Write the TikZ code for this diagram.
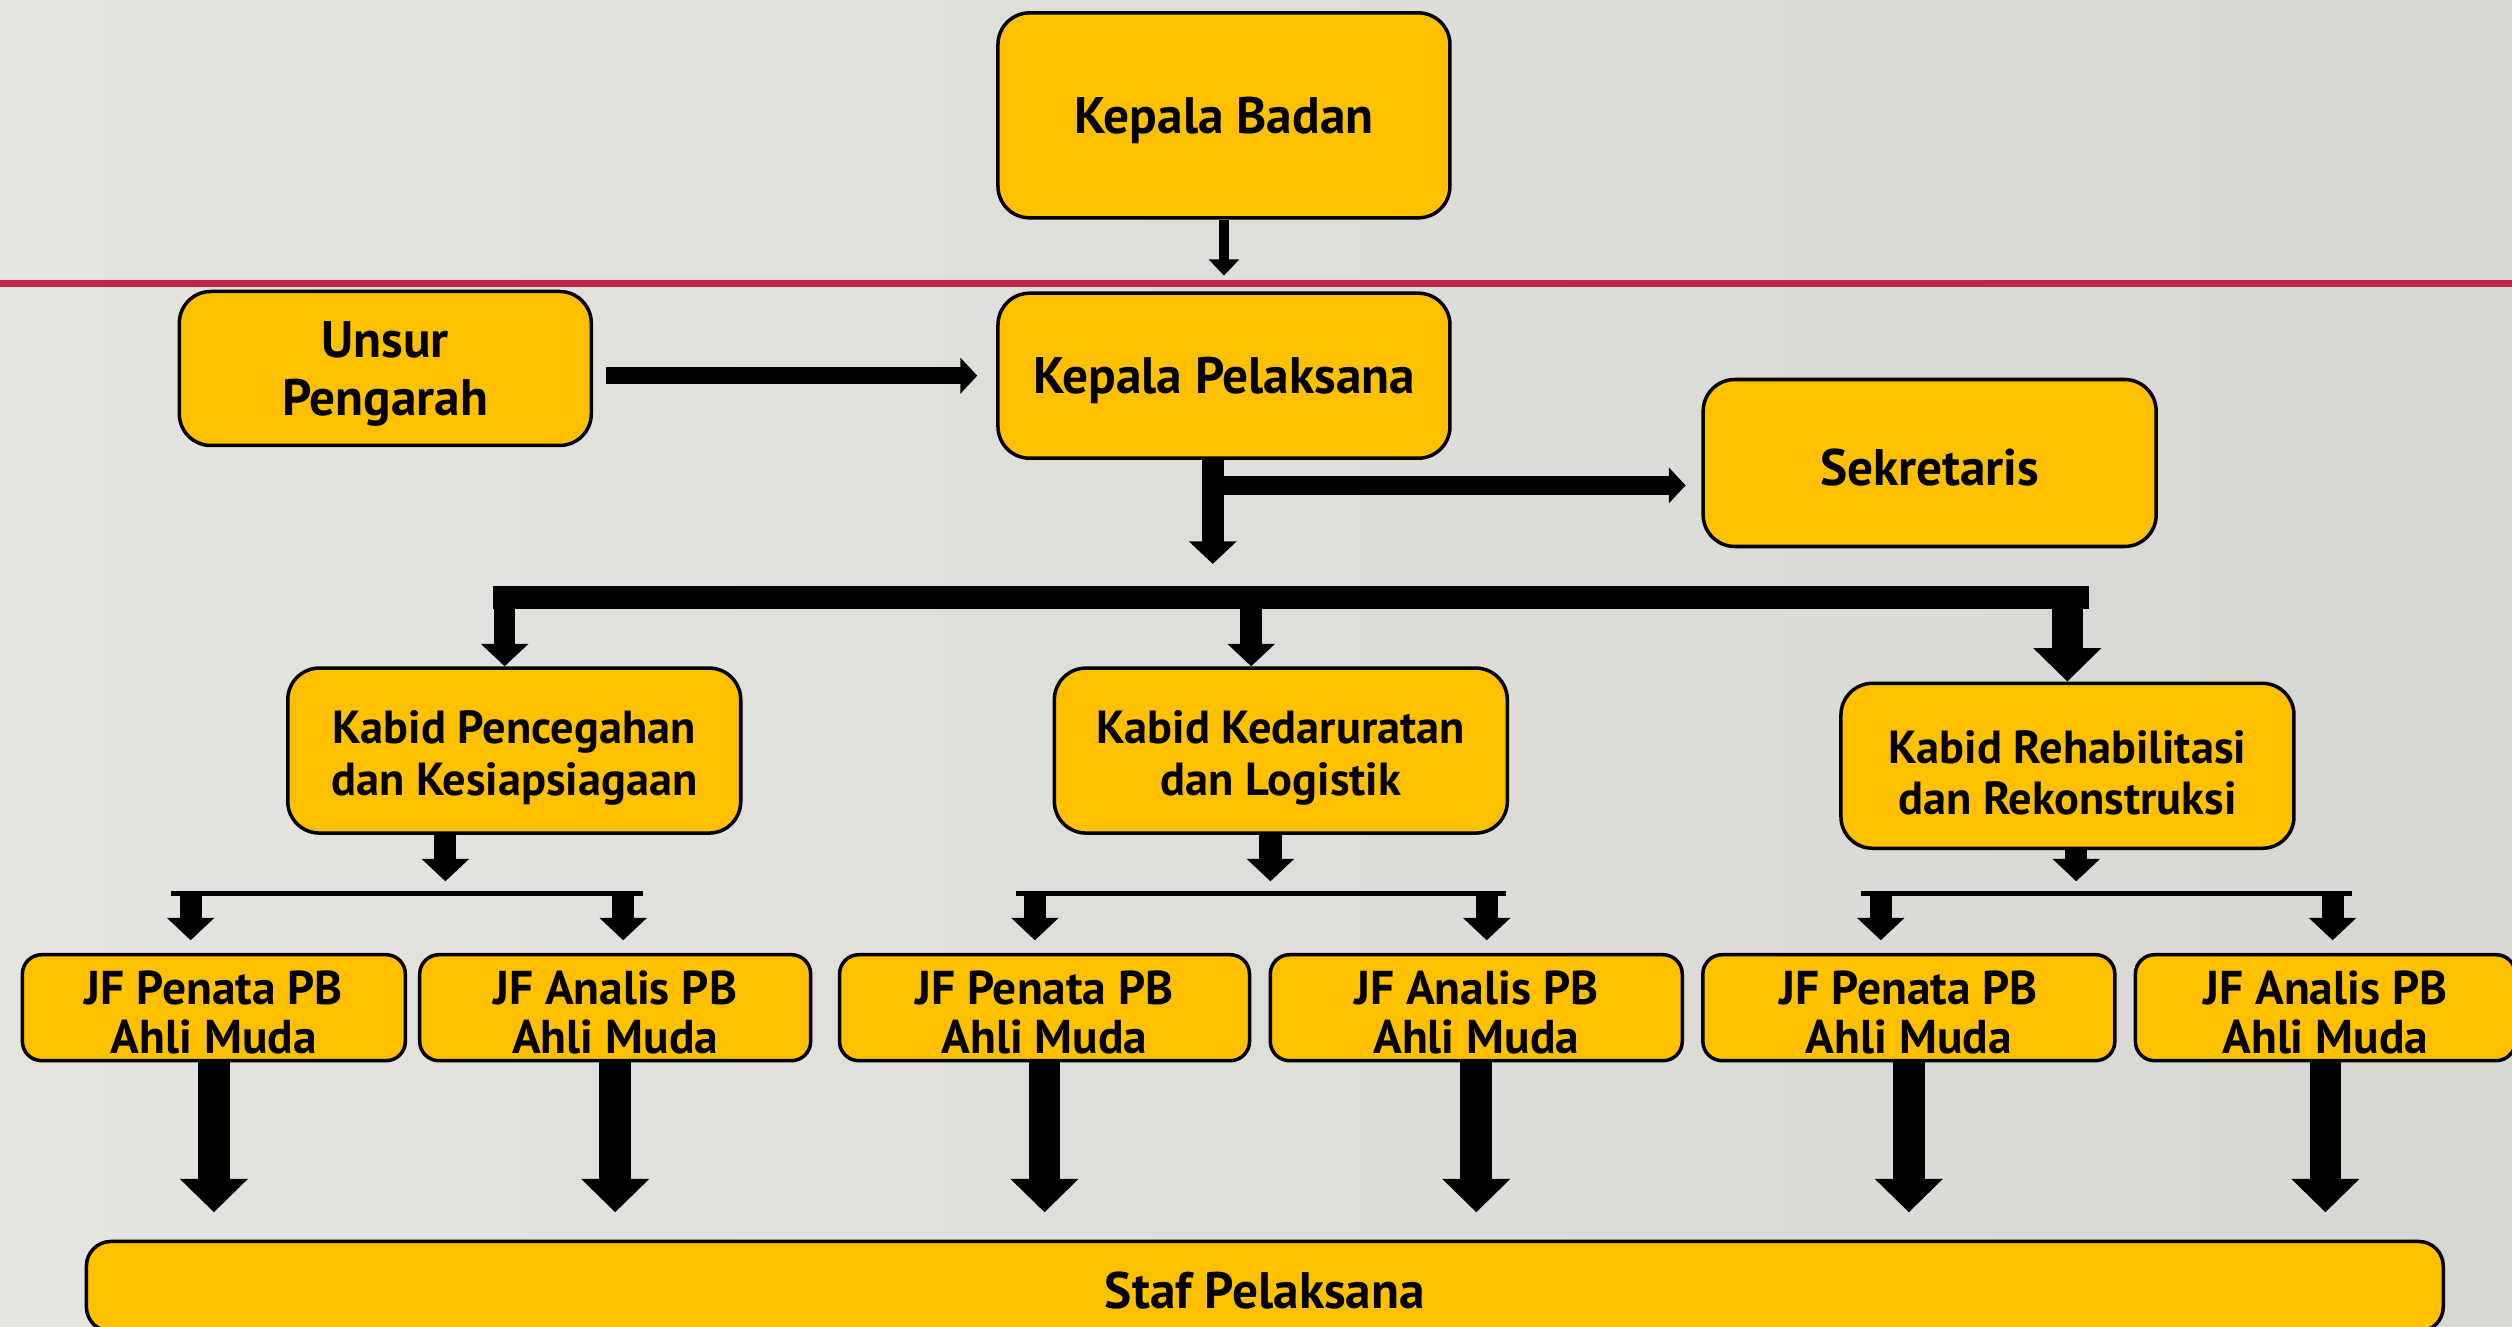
\documentclass[tikz,border=0pt]{standalone}
\usepackage{fontspec}
\setmainfont{PT Sans}
\usetikzlibrary{arrows.meta}

\definecolor{boxgold}{HTML}{FFC000}
\definecolor{lineRed}{HTML}{BE2448}
\definecolor{bgLeft}{HTML}{E5E3DF}
\definecolor{bgMid}{HTML}{ECEAE7}
\definecolor{bgRight}{HTML}{D9D7D3}

\newcommand{\lift}{\rule{0pt}{13.5pt}}
\newcommand{\liftjf}{\rule{0pt}{12.3pt}}

\begin{document}
\begin{tikzpicture}[x=0.01602cm, y=-0.01602cm]
    % Styles
    \tikzstyle{box} = [rectangle, rounded corners=9pt, text centered, align=center, draw=black, line width=1pt, fill=boxgold, font=\bfseries\fontsize{14.6}{16.5}\selectfont, execute at begin node={\rule{0pt}{13pt}}]
    \tikzstyle{kabid} = [box, minimum width=4.53cm, minimum height=1.65cm, font=\bfseries\fontsize{13.2}{14.6}\selectfont]
    \tikzstyle{jf} = [box, rounded corners=5.5pt, inner ysep=0pt, minimum height=1.06cm, font=\bfseries\fontsize{13.5}{14.2}\selectfont]
    \tikzstyle{thinarrow} = [line width=2.7pt, -{Triangle[length=4.6pt, width=8.4pt]}]
    \tikzstyle{medarrow} = [line width=5pt, -{Triangle[length=4.8pt, width=10pt]}]
    \tikzstyle{midarrow} = [line width=6.3pt, -{Triangle[length=6.4pt, width=13.2pt]}]
    \tikzstyle{bigarrow} = [line width=9pt, -{Triangle[length=9.5pt, width=18.8pt]}]
    \tikzstyle{bus} = [line width=6.4pt]
    \tikzstyle{subbus} = [line width=1.4pt]

    % Latar
    \useasboundingbox (0,0) rectangle (1568,828);
    \clip (0,0) rectangle (1568,828);
    \shade [left color=bgLeft, middle color=bgMid, right color=bgRight] (0,0) rectangle (1568,828);
    \draw [lineRed, line width=1.8pt] (0,177) -- (1568,177);

    % Pimpinan
    \node (badan) [box, minimum width=4.52cm, minimum height=2.05cm] at (764,72) {Kepala Badan};
    \node (pelaksana) [box, minimum width=4.52cm, minimum height=1.65cm] at (764,234.5) {Kepala Pelaksana};
    \node (unsur) [box, minimum width=4.12cm, minimum height=1.54cm] at (240.5,230) {\lift Unsur\\Pengarah};
    \node (sekretaris) [box, minimum width=4.53cm, minimum height=1.67cm] at (1204.5,289) {Sekretaris};

    % Kabid
    \node (kabid1) [kabid] at (321,468.5) {\lift Kabid Pencegahan\\dan Kesiapsiagaan};
    \node (kabid2) [kabid] at (799.5,468.5) {\lift Kabid Kedaruratan\\dan Logistik};
    \node (kabid3) [kabid] at (1290.5,478) {\lift Kabid Rehabilitasi\\dan Rekonstruksi};

    % Jabatan fungsional
    \node (jf11) [jf, minimum width=3.83cm] at (133.5,629) {\liftjf JF Penata PB\\Ahli Muda};
    \node (jf12) [jf, minimum width=3.91cm] at (384,629) {\liftjf JF Analis PB\\Ahli Muda};
    \node (jf21) [jf, minimum width=4.10cm] at (652,629) {\liftjf JF Penata PB\\Ahli Muda};
    \node (jf22) [jf, minimum width=4.12cm] at (921.5,629) {\liftjf JF Analis PB\\Ahli Muda};
    \node (jf31) [jf, minimum width=4.12cm] at (1191.5,629) {\liftjf JF Penata PB\\Ahli Muda};
    \node (jf32) [jf, minimum width=3.80cm] at (1451.5,629) {\liftjf JF Analis PB\\Ahli Muda};

    \node (staf) [box, rounded corners=7pt, minimum width=23.57cm, minimum height=0.9cm] at (789.5,803) {Staf Pelaksana};

    % Titik bantu
    \coordinate (split) at (757,352);
    \coordinate (branch) at (757,303);
    \coordinate (busL) at (315,373);
    \coordinate (busM) at (781,373);
    \coordinate (busR) at (1297,373);
    \coordinate (k1) at (278,558);
    \coordinate (k2) at (793,558);
    \coordinate (k3) at (1296,558);
    \coordinate (d11) at (119,558);
    \coordinate (d12) at (389,558);
    \coordinate (d21) at (646,558);
    \coordinate (d22) at (928,558);
    \coordinate (d31) at (1174,558);
    \coordinate (d32) at (1456,558);

    % Panah atas
    \draw [thinarrow, shorten >=4.5pt] (badan) -- (pelaksana);
    \draw [medarrow, shorten <=3.6pt, shorten >=5.4pt] (unsur.east |- pelaksana) -- (pelaksana.west);
    \draw [midarrow] (split |- pelaksana.south) -- (split);
    \draw [medarrow, line width=5.3pt, shorten >=4.5pt] (branch) -- (branch -| sekretaris.west);

    % Garis ke kabid
    \draw [bus, line cap=rect] (busL) -- (busR);
    \draw [midarrow, line width=6pt] (busL) -- (busL |- kabid1.north);
    \draw [midarrow] (busM) -- (busM |- kabid2.north);
    \draw [bigarrow] ([xshift=-3pt]busR) -- ([xshift=-3pt]busR |- kabid3.north);

    % Kabid ke JF
    \draw [midarrow, shorten >=3.6pt] (k1 |- kabid1.south) -- (k1);
    \draw [midarrow, shorten >=3.6pt] (k2 |- kabid2.south) -- (k2);
    \draw [midarrow, shorten >=3.6pt] (k3 |- kabid3.south) -- (k3);

    \draw [subbus] ([xshift=-5.5pt]d11) -- ([xshift=5.5pt]d12);
    \draw [subbus] ([xshift=-5.5pt]d21) -- ([xshift=5.5pt]d22);
    \draw [subbus] ([xshift=-5.5pt]d31) -- ([xshift=5.5pt]d32);

    \draw [midarrow, shorten >=3.6pt] (d11) -- (d11 |- jf11.north);
    \draw [midarrow, shorten >=3.6pt] (d12) -- (d12 |- jf12.north);
    \draw [midarrow, shorten >=3.6pt] (d21) -- (d21 |- jf21.north);
    \draw [midarrow, shorten >=3.6pt] (d22) -- (d22 |- jf22.north);
    \draw [midarrow, shorten >=3.6pt] (d31) -- (d31 |- jf31.north);
    \draw [midarrow, shorten >=3.6pt] (d32) -- (d32 |- jf32.north);

    % JF ke staf
    \draw [bigarrow, shorten >=7.8pt] (jf11) -- (jf11 |- staf.north);
    \draw [bigarrow, shorten >=7.8pt] (jf12) -- (jf12 |- staf.north);
    \draw [bigarrow, shorten >=7.8pt] (jf21) -- (jf21 |- staf.north);
    \draw [bigarrow, shorten >=7.8pt] (jf22) -- (jf22 |- staf.north);
    \draw [bigarrow, shorten >=7.8pt] (jf31) -- (jf31 |- staf.north);
    \draw [bigarrow, shorten >=7.8pt] (jf32) -- (jf32 |- staf.north);
\end{tikzpicture}
\end{document}
